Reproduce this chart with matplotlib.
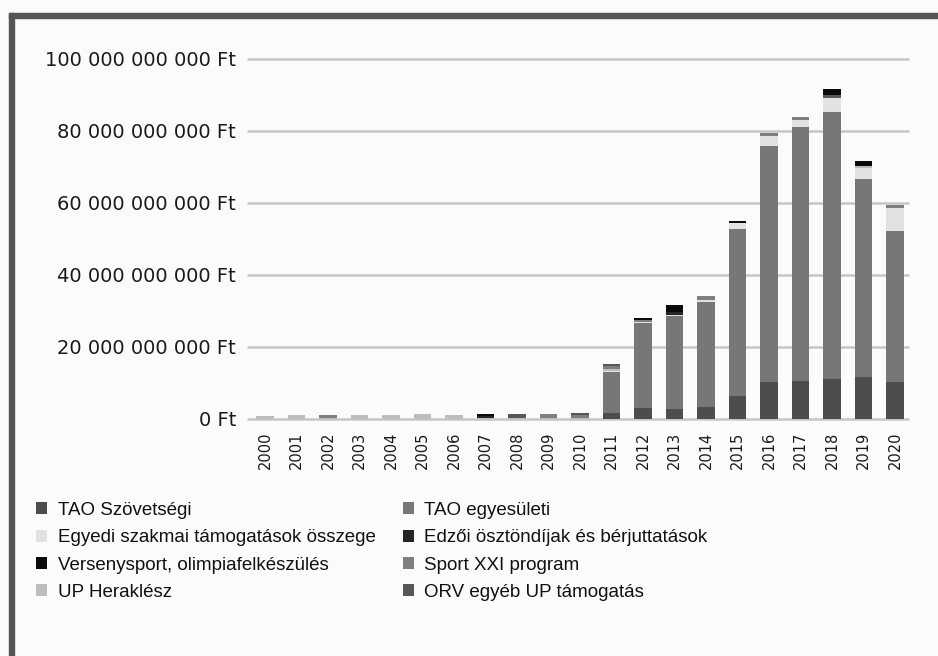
import numpy as np
import matplotlib.pyplot as plt
from matplotlib.patches import Rectangle

# years on the x axis
years = [str(y) for y in range(2000, 2021)]

# values in billion Ft
tao_szov = [0, 0, 0, 0, 0, 0, 0, 0, 0, 0, 0,
            1.7, 3.1, 2.8, 3.4, 6.4, 10.3, 10.6, 11.1, 11.7, 10.3]
tao_egyes = [0, 0, 0, 0, 0, 0, 0, 0, 0, 0, 0,
             11.3, 23.6, 25.8, 29.1, 46.3, 65.5, 70.5, 74.2, 54.9, 42.0]
egyedi = [0, 0, 0, 0, 0, 0, 0, 0, 0, 0, 0,
          0.4, 0.2, 0.4, 0.6, 1.7, 2.7, 1.9, 4.0, 3.0, 6.3]
heraklesz = [0.8, 1.0, 0.4, 1.0, 1.0, 1.4, 1.0, 0.4, 0.3, 0.4, 0.4,
             0.5, 0, 0, 0, 0, 0, 0, 0, 0.6, 0]
sport21 = [0, 0, 0.6, 0, 0, 0, 0, 0, 0, 1.0, 0.6,
           0.9, 0.7, 0, 1.1, 0, 1.0, 0.9, 0, 0, 0.8]
orv = [0, 0, 0, 0, 0, 0, 0, 0, 1.2, 0, 0.6,
       0.5, 0, 0, 0, 0, 0, 0, 0.8, 0, 0]
edzoi = [0, 0, 0, 0, 0, 0, 0, 0.5, 0, 0, 0,
         0, 0, 0.7, 0, 0, 0, 0, 0, 0, 0]
verseny = [0, 0, 0, 0, 0, 0, 0, 0.5, 0, 0, 0,
           0, 0.4, 1.9, 0, 0.6, 0, 0, 1.5, 1.5, 0]

yticks = [0, 20e9, 40e9, 60e9, 80e9, 100e9]

# stacking order bottom -> top
series = [
    ("TAO Szövetségi", tao_szov, "#4d4d4d"),
    ("TAO egyesületi", tao_egyes, "#777777"),
    ("Egyedi szakmai támogatások összege", egyedi, "#e2e2e2"),
    ("UP Heraklész", heraklesz, "#bdbdbd"),
    ("Sport XXI program", sport21, "#7f7f7f"),
    ("ORV egyéb UP támogatás", orv, "#575757"),
    ("Edzői ösztöndíjak és bérjuttatások", edzoi, "#262626"),
    ("Versenysport, olimpiafelkészülés", verseny, "#0a0a0a"),
]

# legend order (two columns, filled column by column)
legend_order = ["TAO Szövetségi", "Egyedi szakmai támogatások összege",
                "Versenysport, olimpiafelkészülés", "UP Heraklész",
                "TAO egyesületi", "Edzői ösztöndíjak és bérjuttatások",
                "Sport XXI program", "ORV egyéb UP támogatás"]

W, H = 938, 656
bg = "#fbfbfb"
fig = plt.figure(figsize=(W / 100, H / 100), dpi=100, facecolor=bg)
ax = fig.add_axes([247 / W, 1 - 419 / H, (909 - 247) / W, 360 / H])
ax.set_facecolor(bg)

x = np.arange(len(years))
bottom = np.zeros(len(years))
handles = {}
for name, vals, col in series:
    v = np.array(vals) * 1e9
    b = ax.bar(x, v, width=0.56, bottom=bottom, color=col, zorder=2, linewidth=0)
    handles[name] = b
    bottom += v

# gridlines
ax.hlines(yticks, -0.57, 20.44, colors="#c6c6c6", linewidth=1.8, zorder=1, clip_on=False)
ax.set_xlim(-0.57, 20.44)
ax.set_ylim(0, 100e9)

for s in ax.spines.values():
    s.set_visible(False)

ax.set_yticks(yticks)
ax.set_yticklabels([f"{int(v):,}".replace(",", " ") + " Ft" for v in yticks],
                   fontsize=14, color="#1a1a1a")
ax.set_xticks(x)
ax.set_xticklabels(years, rotation=90, fontsize=10.5, color="#1a1a1a")
ax.tick_params(length=0)
ax.tick_params(axis="y", pad=8)
ax.tick_params(axis="x", pad=9)

leg = fig.legend([handles[n] for n in legend_order], legend_order,
                 ncol=2, loc="upper left", bbox_to_anchor=(36 / W, 1 - 502 / H),
                 frameon=False, borderpad=0, borderaxespad=0,
                 handlelength=0.6, handleheight=0.6, handletextpad=0.55,
                 labelspacing=0.55, columnspacing=1.45,
                 prop={"family": "Liberation Sans", "size": 13.5})
for t in leg.get_texts():
    t.set_color("#111111")

# frame on top and left
fig.patches.append(Rectangle((9 / W, 0), 5 / W, 1 - 13 / H, transform=fig.transFigure,
                             color="#555555", zorder=0))
fig.patches.append(Rectangle((9 / W, 1 - 18 / H), 1, 5 / H, transform=fig.transFigure,
                             color="#555555", zorder=0))

fig.savefig("out.png", dpi=100, facecolor=bg)
